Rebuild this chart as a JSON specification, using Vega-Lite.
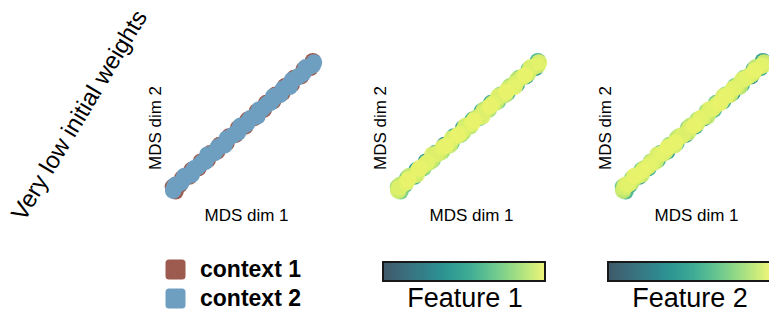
{
  "$schema": "https://vega.github.io/schema/vega-lite/v6.json",
  "padding": {"left": 7, "top": 0, "right": 0, "bottom": 0},
  "background": "white",
  "title": {"text": "Very low initial weights", "orient": "left", "angle": 301, "fontSize": 24, "fontWeight": "normal", "font": "Liberation Sans", "color": "black", "anchor": "middle", "offset": -89, "dx": 29, "dy": -42},
  "datasets": {
    "pts": [
      {"x": 0.060, "y": 0.088, "c": "context 1", "f1": 0.75, "f2": 0.6},
      {"x": 0.043, "y": 0.118, "c": "context 1", "f1": 0.85, "f2": 0.7},
      {"x": 0.086, "y": 0.129, "c": "context 1", "f1": 0.6, "f2": 0.5},
      {"x": 0.101, "y": 0.172, "c": "context 1", "f1": 0.7, "f2": 0.8},
      {"x": 0.145, "y": 0.183, "c": "context 1", "f1": 0.5, "f2": 0.45},
      {"x": 0.160, "y": 0.226, "c": "context 1", "f1": 0.45, "f2": 0.75},
      {"x": 0.203, "y": 0.237, "c": "context 1", "f1": 0.75, "f2": 0.55},
      {"x": 0.218, "y": 0.280, "c": "context 1", "f1": 0.4, "f2": 0.85},
      {"x": 0.261, "y": 0.291, "c": "context 1", "f1": 0.8, "f2": 0.6},
      {"x": 0.276, "y": 0.334, "c": "context 1", "f1": 0.55, "f2": 0.7},
      {"x": 0.320, "y": 0.345, "c": "context 1", "f1": 0.85, "f2": 0.4},
      {"x": 0.335, "y": 0.388, "c": "context 1", "f1": 0.35, "f2": 0.8},
      {"x": 0.378, "y": 0.399, "c": "context 1", "f1": 0.7, "f2": 0.65},
      {"x": 0.393, "y": 0.442, "c": "context 1", "f1": 0.5, "f2": 0.9},
      {"x": 0.436, "y": 0.453, "c": "context 1", "f1": 0.8, "f2": 0.5},
      {"x": 0.451, "y": 0.496, "c": "context 1", "f1": 0.45, "f2": 0.75},
      {"x": 0.495, "y": 0.507, "c": "context 1", "f1": 0.9, "f2": 0.55},
      {"x": 0.510, "y": 0.550, "c": "context 1", "f1": 0.6, "f2": 0.85},
      {"x": 0.553, "y": 0.561, "c": "context 1", "f1": 0.75, "f2": 0.45},
      {"x": 0.568, "y": 0.604, "c": "context 1", "f1": 0.5, "f2": 0.8},
      {"x": 0.611, "y": 0.615, "c": "context 1", "f1": 0.85, "f2": 0.6},
      {"x": 0.626, "y": 0.658, "c": "context 1", "f1": 0.55, "f2": 0.7},
      {"x": 0.670, "y": 0.669, "c": "context 1", "f1": 0.7, "f2": 0.5},
      {"x": 0.685, "y": 0.712, "c": "context 1", "f1": 0.8, "f2": 0.85},
      {"x": 0.728, "y": 0.723, "c": "context 1", "f1": 0.6, "f2": 0.4},
      {"x": 0.743, "y": 0.766, "c": "context 1", "f1": 0.85, "f2": 0.75},
      {"x": 0.786, "y": 0.777, "c": "context 1", "f1": 0.5, "f2": 0.55},
      {"x": 0.801, "y": 0.820, "c": "context 1", "f1": 0.75, "f2": 0.8},
      {"x": 0.845, "y": 0.831, "c": "context 1", "f1": 0.55, "f2": 0.35},
      {"x": 0.860, "y": 0.874, "c": "context 1", "f1": 0.7, "f2": 0.6},
      {"x": 0.903, "y": 0.885, "c": "context 1", "f1": 0.4, "f2": 0.5},
      {"x": 0.918, "y": 0.928, "c": "context 1", "f1": 0.6, "f2": 0.45},
      {"x": 0.045, "y": 0.092, "c": "context 2", "f1": 0.95, "f2": 0.92},
      {"x": 0.050, "y": 0.112, "c": "context 2", "f1": 0.97, "f2": 0.95},
      {"x": 0.058, "y": 0.131, "c": "context 2", "f1": 0.9, "f2": 0.97},
      {"x": 0.079, "y": 0.134, "c": "context 2", "f1": 0.93, "f2": 0.98},
      {"x": 0.098, "y": 0.146, "c": "context 2", "f1": 0.98, "f2": 0.89},
      {"x": 0.108, "y": 0.166, "c": "context 2", "f1": 0.99, "f2": 0.9},
      {"x": 0.115, "y": 0.188, "c": "context 2", "f1": 0.91, "f2": 0.99},
      {"x": 0.138, "y": 0.188, "c": "context 2", "f1": 0.9, "f2": 0.96},
      {"x": 0.161, "y": 0.195, "c": "context 2", "f1": 0.96, "f2": 0.93},
      {"x": 0.167, "y": 0.221, "c": "context 2", "f1": 0.96, "f2": 0.99},
      {"x": 0.177, "y": 0.237, "c": "context 2", "f1": 0.99, "f2": 0.91},
      {"x": 0.196, "y": 0.242, "c": "context 2", "f1": 0.88, "f2": 0.93},
      {"x": 0.211, "y": 0.259, "c": "context 2", "f1": 0.94, "f2": 0.98},
      {"x": 0.225, "y": 0.275, "c": "context 2", "f1": 0.98, "f2": 0.97},
      {"x": 0.246, "y": 0.278, "c": "context 2", "f1": 0.9, "f2": 0.94},
      {"x": 0.254, "y": 0.296, "c": "context 2", "f1": 0.92, "f2": 0.88},
      {"x": 0.258, "y": 0.325, "c": "context 2", "f1": 0.97, "f2": 0.96},
      {"x": 0.283, "y": 0.329, "c": "context 2", "f1": 0.97, "f2": 0.98},
      {"x": 0.302, "y": 0.335, "c": "context 2", "f1": 0.93, "f2": 0.9},
      {"x": 0.313, "y": 0.350, "c": "context 2", "f1": 0.86, "f2": 0.95},
      {"x": 0.323, "y": 0.372, "c": "context 2", "f1": 0.98, "f2": 0.99},
      {"x": 0.342, "y": 0.383, "c": "context 2", "f1": 0.99, "f2": 0.91},
      {"x": 0.365, "y": 0.384, "c": "context 2", "f1": 0.92, "f2": 0.95},
      {"x": 0.371, "y": 0.404, "c": "context 2", "f1": 0.94, "f2": 0.99},
      {"x": 0.379, "y": 0.428, "c": "context 2", "f1": 0.97, "f2": 0.88},
      {"x": 0.400, "y": 0.437, "c": "context 2", "f1": 0.9, "f2": 0.94},
      {"x": 0.415, "y": 0.448, "c": "context 2", "f1": 0.99, "f2": 0.97},
      {"x": 0.429, "y": 0.458, "c": "context 2", "f1": 0.98, "f2": 0.87},
      {"x": 0.450, "y": 0.467, "c": "context 2", "f1": 0.89, "f2": 0.93},
      {"x": 0.458, "y": 0.491, "c": "context 2", "f1": 0.95, "f2": 0.97},
      {"x": 0.465, "y": 0.511, "c": "context 2", "f1": 0.96, "f2": 0.9},
      {"x": 0.488, "y": 0.512, "c": "context 2", "f1": 0.87, "f2": 0.99},
      {"x": 0.507, "y": 0.524, "c": "context 2", "f1": 0.98, "f2": 0.96},
      {"x": 0.517, "y": 0.545, "c": "context 2", "f1": 0.99, "f2": 0.92},
      {"x": 0.527, "y": 0.560, "c": "context 2", "f1": 0.91, "f2": 0.98},
      {"x": 0.546, "y": 0.566, "c": "context 2", "f1": 0.93, "f2": 0.96},
      {"x": 0.571, "y": 0.571, "c": "context 2", "f1": 0.97, "f2": 0.91},
      {"x": 0.575, "y": 0.599, "c": "context 2", "f1": 0.97, "f2": 0.89},
      {"x": 0.583, "y": 0.617, "c": "context 2", "f1": 0.9, "f2": 0.97},
      {"x": 0.604, "y": 0.620, "c": "context 2", "f1": 0.91, "f2": 0.98},
      {"x": 0.619, "y": 0.637, "c": "context 2", "f1": 0.99, "f2": 0.93},
      {"x": 0.633, "y": 0.653, "c": "context 2", "f1": 0.98, "f2": 0.95},
      {"x": 0.652, "y": 0.659, "c": "context 2", "f1": 0.93, "f2": 0.99},
      {"x": 0.663, "y": 0.674, "c": "context 2", "f1": 0.89, "f2": 0.9},
      {"x": 0.669, "y": 0.700, "c": "context 2", "f1": 0.97, "f2": 0.96},
      {"x": 0.692, "y": 0.707, "c": "context 2", "f1": 0.96, "f2": 0.99},
      {"x": 0.713, "y": 0.710, "c": "context 2", "f1": 0.9, "f2": 0.92},
      {"x": 0.721, "y": 0.728, "c": "context 2", "f1": 0.99, "f2": 0.93},
      {"x": 0.731, "y": 0.749, "c": "context 2", "f1": 0.95, "f2": 0.98},
      {"x": 0.750, "y": 0.761, "c": "context 2", "f1": 0.92, "f2": 0.97},
      {"x": 0.773, "y": 0.762, "c": "context 2", "f1": 0.98, "f2": 0.9},
      {"x": 0.779, "y": 0.782, "c": "context 2", "f1": 0.97, "f2": 0.88},
      {"x": 0.787, "y": 0.806, "c": "context 2", "f1": 0.91, "f2": 0.97},
      {"x": 0.808, "y": 0.815, "c": "context 2", "f1": 0.88, "f2": 0.98},
      {"x": 0.823, "y": 0.826, "c": "context 2", "f1": 0.96, "f2": 0.93},
      {"x": 0.838, "y": 0.836, "c": "context 2", "f1": 0.99, "f2": 0.94},
      {"x": 0.857, "y": 0.848, "c": "context 2", "f1": 0.92, "f2": 0.96},
      {"x": 0.867, "y": 0.869, "c": "context 2", "f1": 0.94, "f2": 0.99},
      {"x": 0.873, "y": 0.889, "c": "context 2", "f1": 0.97, "f2": 0.9},
      {"x": 0.896, "y": 0.890, "c": "context 2", "f1": 0.9, "f2": 0.91},
      {"x": 0.917, "y": 0.900, "c": "context 2", "f1": 0.95, "f2": 0.98},
      {"x": 0.925, "y": 0.920, "c": "context 2", "f1": 0.98, "f2": 0.96}
    ]
  },
  "config": {
    "view": {"stroke": null},
    "font": "Liberation Sans",
    "axis": {"domain": false, "ticks": false, "labels": false, "grid": false, "titleFontSize": 17, "titleFontWeight": "normal", "titleColor": "black", "titlePadding": 2},
    "concat": {"spacing": 45}
  },
  "hconcat": [
    {
      "data": {"name": "pts"},
      "width": 160, "height": 155,
      "title": {"text": " ", "fontSize": 10, "offset": 40},
      "mark": {"type": "circle", "size": 270, "opacity": 1},
      "encoding": {
        "x": {"field": "x", "type": "quantitative", "scale": {"domain": [0, 1]}, "axis": {"title": "MDS dim 1"}},
        "y": {"field": "y", "type": "quantitative", "scale": {"domain": [0, 1]}, "axis": {"title": "MDS dim 2"}},
        "color": {"field": "c", "type": "nominal", "scale": {"domain": ["context 1", "context 2"], "range": ["#9c5b4e", "#6f9fc0"]},
          "legend": {"title": null, "orient": "none", "legendX": -2, "legendY": 208, "direction": "vertical", "symbolType": "M-0.65,-1L0.65,-1Q1,-1 1,-0.65L1,0.65Q1,1 0.65,1L-0.65,1Q-1,1 -1,0.65L-1,-0.65Q-1,-1 -0.65,-1Z", "symbolSize": 400, "symbolStrokeWidth": 0, "symbolOpacity": 1, "labelFontSize": 23, "labelFontWeight": "bold", "labelColor": "black", "labelOffset": 13, "rowPadding": 5}}
      }
    },
    {
      "data": {"name": "pts"},
      "width": 160, "height": 155,
      "title": {"text": " ", "fontSize": 10, "offset": 40},
      "mark": {"type": "circle", "size": 270, "opacity": 0.9},
      "encoding": {
        "x": {"field": "x", "type": "quantitative", "scale": {"domain": [0, 1]}, "axis": {"title": "MDS dim 1"}},
        "y": {"field": "y", "type": "quantitative", "scale": {"domain": [0, 1]}, "axis": {"title": "MDS dim 2"}},
        "order": {"field": "f1", "type": "quantitative"},
        "color": {"field": "f1", "type": "quantitative", "scale": {"domain": [0, 0.55, 1], "range": ["#2b4858", "#30a78a", "#eef46b"]},
          "legend": {"title": "Feature 1", "orient": "none", "legendX": -8, "legendY": 212, "direction": "horizontal", "gradientLength": 162, "gradientThickness": 19, "gradientStrokeColor": "black", "gradientStrokeWidth": 2, "labelExpr": "''", "labelOffset": 0, "labelFontSize": 1, "titleOrient": "bottom", "titleAnchor": "middle", "titleFontSize": 27, "titleFontWeight": "normal", "titleColor": "black", "titlePadding": 4}}
      }
    },
    {
      "data": {"name": "pts"},
      "width": 160, "height": 155,
      "title": {"text": " ", "fontSize": 10, "offset": 40},
      "mark": {"type": "circle", "size": 270, "opacity": 0.9},
      "encoding": {
        "x": {"field": "x", "type": "quantitative", "scale": {"domain": [0, 1]}, "axis": {"title": "MDS dim 1"}},
        "y": {"field": "y", "type": "quantitative", "scale": {"domain": [0, 1]}, "axis": {"title": "MDS dim 2"}},
        "order": {"field": "f2", "type": "quantitative"},
        "color": {"field": "f2", "type": "quantitative", "scale": {"domain": [0, 0.55, 1], "range": ["#2b4858", "#30a78a", "#eef46b"]},
          "legend": {"title": "Feature 2", "orient": "none", "legendX": -8, "legendY": 212, "direction": "horizontal", "gradientLength": 162, "gradientThickness": 19, "gradientStrokeColor": "black", "gradientStrokeWidth": 2, "labelExpr": "''", "labelOffset": 0, "labelFontSize": 1, "titleOrient": "bottom", "titleAnchor": "middle", "titleFontSize": 27, "titleFontWeight": "normal", "titleColor": "black", "titlePadding": 4}}
      }
    }
  ],
  "resolve": {"scale": {"color": "independent"}}
}
